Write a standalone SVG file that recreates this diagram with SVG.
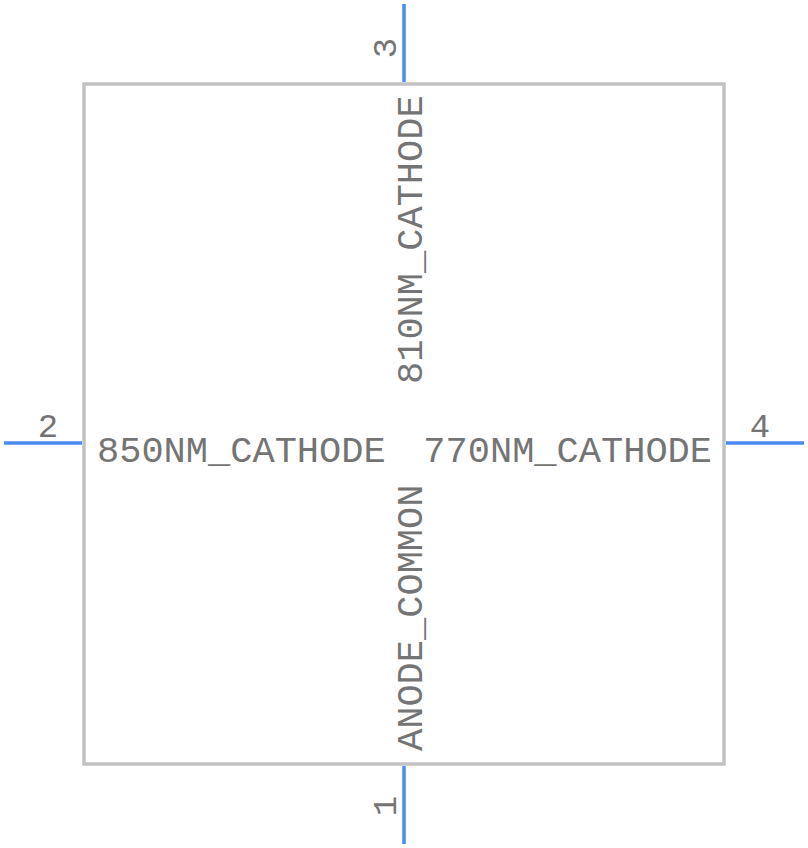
<svg xmlns="http://www.w3.org/2000/svg" width="808" height="848" viewBox="0 0 808 848">
<style>
.body{fill:none;stroke:#c2c2c2;stroke-width:3.5}
.pin{stroke:#4a8af4;stroke-width:3.5;fill:none}
.t{font-family:"Liberation Mono","DejaVu Sans Mono",monospace;font-size:37px;fill:#747474}
.n{font-family:"Liberation Mono","DejaVu Sans Mono",monospace;font-size:34px;fill:#747474}
</style>
<rect width="808" height="848" fill="#ffffff"/>
<g id="body"><rect class="body" x="84" y="84" width="640" height="680"/></g>
<g id="connectors">
<line class="pin" x1="404" y1="4" x2="404" y2="82"/>
<line class="pin" x1="404" y1="766" x2="404" y2="844"/>
<line class="pin" x1="4" y1="443" x2="82" y2="443"/>
<line class="pin" x1="726" y1="443" x2="804" y2="443"/>
</g>
<g id="pin1"><text class="n" transform="translate(396,806) rotate(-90)" text-anchor="middle" x="0" y="0">1</text></g>
<g id="pin2"><text class="n" x="48" y="437" text-anchor="middle">2</text></g>
<g id="pin3"><text class="n" transform="translate(396,48) rotate(-90)" text-anchor="middle" x="0" y="0">3</text></g>
<g id="pin4"><text class="n" x="760" y="437" text-anchor="middle">4</text></g>
<g id="labels">
<text class="t" x="97" y="462">850NM_CATHODE</text>
<text class="t" x="712" y="462" text-anchor="end">770NM_CATHODE</text>
<text class="t" transform="translate(422,384) rotate(-90)">810NM_CATHODE</text>
<text class="t" transform="translate(422,751) rotate(-90)">ANODE_COMMON</text>
</g>
</svg>
